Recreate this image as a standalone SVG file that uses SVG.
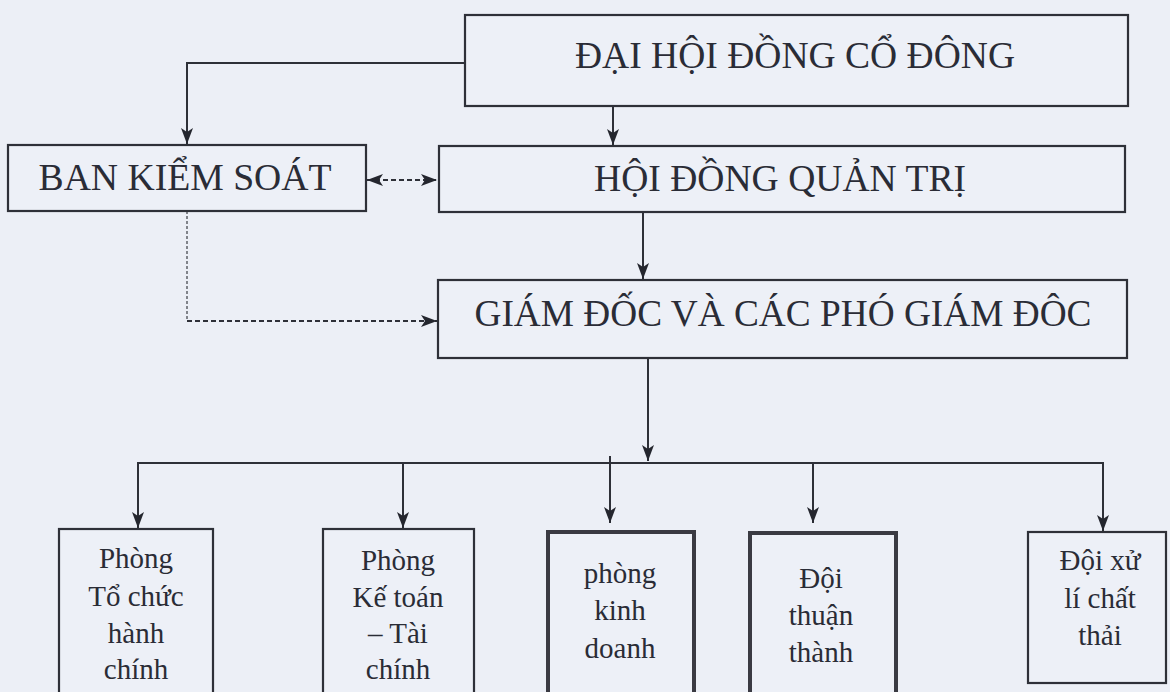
<svg xmlns="http://www.w3.org/2000/svg" width="1170" height="692" viewBox="0 0 1170 692">
<style>
.bg{fill:#eceff6}
.box{fill:#edf0f7;stroke:#2e3038;stroke-width:2.2}
.thick{fill:#edf0f7;stroke:#3a3a42;stroke-width:4}
.t{font-family:"Liberation Serif","Times New Roman",serif;fill:#2a2c36;text-anchor:middle}
.big{font-size:37px}
.sm{font-size:29px}
.ln{fill:none;stroke:#2e3038;stroke-width:2}
.dash{fill:none;stroke:#2e3038;stroke-width:2;stroke-dasharray:5,3}
.dashv{fill:none;stroke:#3a3c44;stroke-width:1.2;stroke-dasharray:3,2}
</style>
<defs>
<marker id="arr" viewBox="0 0 16 12" refX="16" refY="6" markerWidth="16" markerHeight="12" orient="auto-start-reverse" markerUnits="userSpaceOnUse">
<path d="M0,0 L16,6 L0,12 L4,6 Z" fill="#24262e"/>
</marker>
</defs>
<rect class="bg" x="0" y="0" width="1170" height="692"/>

<g id="connectors">
<path class="ln" d="M465,63 H187 V144" marker-end="url(#arr)"/>
<path class="ln" d="M613,107 V145" marker-end="url(#arr)"/>
<path class="dash" d="M367,180 H437" marker-start="url(#arr)" marker-end="url(#arr)"/>
<path class="ln" d="M643,212 V279" marker-end="url(#arr)"/>
<path class="dashv" d="M187,211 V321"/>
<path class="dash" d="M187,321 H437" marker-end="url(#arr)"/>
<path class="ln" d="M648,358 V461" marker-end="url(#arr)"/>
<path class="ln" d="M138,463 H1103"/>
<path class="ln" d="M138,462 V528" marker-end="url(#arr)"/>
<path class="ln" d="M403,462 V528" marker-end="url(#arr)"/>
<path class="ln" d="M610,456 V523" marker-end="url(#arr)"/>
<path class="ln" d="M813,462 V523" marker-end="url(#arr)"/>
<path class="ln" d="M1103,462 V531" marker-end="url(#arr)"/>
</g>

<g id="n-dhdcd">
<rect class="box" x="465" y="15" width="663" height="91"/>
<text class="t big" x="795" y="68" textLength="440" lengthAdjust="spacingAndGlyphs">ĐẠI HỘI ĐỒNG CỔ ĐÔNG</text>
</g>
<g id="n-bks">
<rect class="box" x="8" y="145" width="358" height="66"/>
<text class="t big" x="185" y="190" textLength="293" lengthAdjust="spacingAndGlyphs">BAN KIỂM SOÁT</text>
</g>
<g id="n-hdqt">
<rect class="box" x="439" y="146" width="686" height="66"/>
<text class="t big" x="780" y="191" textLength="372" lengthAdjust="spacingAndGlyphs">HỘI ĐỒNG QUẢN TRỊ</text>
</g>
<g id="n-gd">
<rect class="box" x="438" y="280" width="689" height="78"/>
<text class="t big" x="783" y="326" textLength="617" lengthAdjust="spacingAndGlyphs">GIÁM ĐỐC VÀ CÁC PHÓ GIÁM ĐÔC</text>
</g>

<g id="n-tchc">
<rect class="box" x="59" y="529" width="154" height="175"/>
<text class="t sm" x="136" y="568">Phòng</text>
<text class="t sm" x="136" y="606">Tổ chức</text>
<text class="t sm" x="136" y="643">hành</text>
<text class="t sm" x="136" y="679">chính</text>
</g>
<g id="n-ktc">
<rect class="box" x="323" y="529" width="151" height="175"/>
<text class="t sm" x="398" y="570">Phòng</text>
<text class="t sm" x="398" y="607">Kế toán</text>
<text class="t sm" x="398" y="643">– Tài</text>
<text class="t sm" x="398" y="679">chính</text>
</g>
<g id="n-kd">
<rect class="thick" x="548" y="532" width="146" height="175"/>
<text class="t sm" x="620" y="583">phòng</text>
<text class="t sm" x="620" y="620">kinh</text>
<text class="t sm" x="620" y="658">doanh</text>
</g>
<g id="n-tt">
<rect class="thick" x="750" y="533" width="146" height="175"/>
<text class="t sm" x="821" y="588">Đội</text>
<text class="t sm" x="821" y="625">thuận</text>
<text class="t sm" x="821" y="662">thành</text>
</g>
<g id="n-xl">
<rect class="box" x="1028" y="532" width="138" height="151"/>
<text class="t sm" x="1100" y="570">Đội xử</text>
<text class="t sm" x="1100" y="608">lí chất</text>
<text class="t sm" x="1100" y="645">thải</text>
</g>
</svg>
